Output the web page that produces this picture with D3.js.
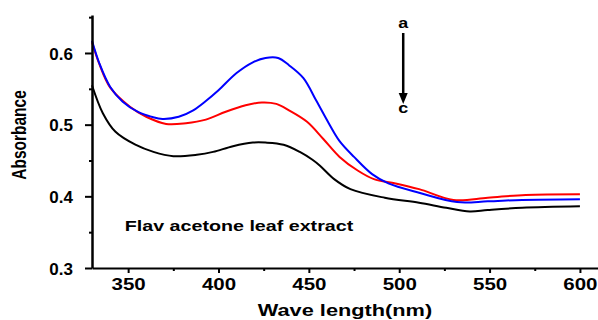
<!DOCTYPE html>
<html>
<head>
<meta charset="utf-8">
<script src="https://cdn.jsdelivr.net/npm/d3@7"></script>
<style>
  html, body { margin: 0; padding: 0; background: #fff; }
  svg { display: block; font-family: "Liberation Sans", Arial, sans-serif; }
</style>
</head>
<body>
<div id="chart"></div>
<script>
// wavelength (nm) and absorbance
const waveA = [330, 334, 340, 347, 356, 363, 369, 378, 386, 393, 400, 410, 419, 426, 433, 439, 447, 454, 461, 467, 475, 485, 494, 511, 532, 549, 568, 600];
const absA  = [0.617, 0.586, 0.553, 0.532, 0.517, 0.511, 0.508, 0.511, 0.520, 0.533, 0.548, 0.572, 0.587, 0.593, 0.593, 0.583, 0.565, 0.534, 0.502, 0.477, 0.455, 0.431, 0.418, 0.405, 0.392, 0.393, 0.395, 0.396];

const waveB = [330, 334, 340, 351, 360, 371, 382, 393, 404, 415, 424, 432, 439, 449, 458, 467, 477, 486, 498, 511, 530, 549, 570, 600];
const absB  = [0.615, 0.585, 0.552, 0.525, 0.511, 0.501, 0.502, 0.507, 0.518, 0.527, 0.531, 0.529, 0.520, 0.504, 0.480, 0.455, 0.436, 0.424, 0.418, 0.410, 0.395, 0.398, 0.402, 0.403];

const waveC = [330, 336, 343, 354, 364, 375, 388, 397, 408, 419, 426, 436, 445, 452, 456, 464, 473, 492, 511, 526, 539, 549, 568, 600];
const absC  = [0.555, 0.516, 0.490, 0.472, 0.462, 0.456, 0.458, 0.462, 0.470, 0.475, 0.475, 0.472, 0.462, 0.451, 0.443, 0.424, 0.410, 0.398, 0.391, 0.384, 0.379, 0.381, 0.384, 0.386];

const seriesColors = ['#0000ff', '#ff0000', '#000000'];

const xMajor = [350, 400, 450, 500, 550, 600];
const xMinor = [375, 425, 475, 525, 575];
const yMajor = [0.3, 0.4, 0.5, 0.6];
const yMinor = [0.35, 0.45, 0.55, 0.65];

const width = 598, height = 320;
const plot = { left: 92, right: 598, top: 15, bottom: 268 };
const stretch = 1.28; // the original lettering is drawn wide

const svg = d3.select('#chart').append('svg')
  .attr('width', width)
  .attr('height', height);

const x = d3.scaleLinear().domain([330, 610]).range([plot.left, plot.right]);
const y = d3.scaleLinear().domain([0.3, 0.653]).range([plot.bottom, plot.top]);

// spectra
const line = d3.line()
  .x(d => x(d[0]))
  .y(d => y(d[1]))
  .curve(d3.curveCatmullRom.alpha(0.5));

const series = [
  d3.zip(waveC, absC),
  d3.zip(waveB, absB),
  d3.zip(waveA, absA)
];
const colors = [seriesColors[2], seriesColors[1], seriesColors[0]];

svg.selectAll('.spectrum')
  .data(series)
  .enter()
  .append('path')
  .attr('class', 'spectrum')
  .attr('d', line)
  .attr('fill', 'none')
  .attr('stroke', (d, i) => colors[i])
  .attr('stroke-width', 2);

// x axis
const xAxis = svg.append('g')
  .attr('transform', `translate(0,${plot.bottom})`)
  .call(d3.axisBottom(x).tickValues(xMajor).tickSize(5).tickSizeOuter(0).tickFormat(d3.format('d')));
xAxis.select('.domain').attr('stroke-width', 2);
xAxis.selectAll('.tick line').attr('stroke-width', 2);
xAxis.selectAll('.tick text')
  .attr('y', 22)
  .attr('dy', null)
  .attr('transform', `scale(${stretch},1)`)
  .style('font-size', '16px')
  .style('font-weight', 'bold')
  .style('fill', '#000');

svg.append('g')
  .attr('transform', `translate(0,${plot.bottom})`)
  .call(d3.axisBottom(x).tickValues(xMinor).tickSize(3).tickFormat(''))
  .call(g => g.select('.domain').remove())
  .selectAll('.tick line').attr('stroke-width', 2);

// y axis
const yAxis = svg.append('g')
  .attr('transform', `translate(${plot.left},0)`)
  .call(d3.axisLeft(y).tickValues(yMajor).tickSize(7).tickPadding(12).tickSizeOuter(0).tickFormat(d3.format('.1f')));
yAxis.select('.domain').attr('stroke-width', 2.5);
yAxis.selectAll('.tick line').attr('stroke-width', 2);
yAxis.selectAll('.tick text')
  .attr('dy', '0.36em')
  .style('font-size', '17px')
  .style('font-weight', 'bold')
  .style('fill', '#000');

svg.append('g')
  .attr('transform', `translate(${plot.left},0)`)
  .call(d3.axisLeft(y).tickValues(yMinor).tickSize(3).tickFormat(''))
  .call(g => g.select('.domain').remove())
  .selectAll('.tick line').attr('stroke-width', 2);

// axis titles
svg.append('text')
  .attr('transform', `translate(345,316) scale(${stretch},1)`)
  .attr('text-anchor', 'middle')
  .style('font-size', '17px')
  .style('font-weight', 'bold')
  .text('Wave length(nm)');

svg.append('text')
  .attr('transform', `translate(26,135) scale(${stretch},1) rotate(-90)`)
  .attr('text-anchor', 'middle')
  .style('font-size', '15.5px')
  .style('font-weight', 'bold')
  .text('Absorbance');

// annotation
svg.append('text')
  .attr('transform', `translate(239,231) scale(1.27,1)`)
  .attr('text-anchor', 'middle')
  .style('font-size', '15.5px')
  .style('font-weight', 'bold')
  .text('Flav acetone leaf extract');

// arrow a -> c
const arrowX = x(500) + 4;
svg.append('line')
  .attr('x1', arrowX).attr('x2', arrowX)
  .attr('y1', 33).attr('y2', 95)
  .attr('stroke', '#000')
  .attr('stroke-width', 2.5);
svg.append('path')
  .attr('d', `M${arrowX - 4.5},93 L${arrowX + 4.5},93 L${arrowX},104 Z`)
  .attr('fill', '#000');

svg.append('text')
  .attr('transform', `translate(${arrowX},28) scale(${stretch},1)`)
  .attr('text-anchor', 'middle')
  .style('font-size', '14px')
  .style('font-weight', 'bold')
  .text('a');
svg.append('text')
  .attr('transform', `translate(${arrowX},113) scale(${stretch},1)`)
  .attr('text-anchor', 'middle')
  .style('font-size', '14px')
  .style('font-weight', 'bold')
  .text('c');
</script>
</body>
</html>
